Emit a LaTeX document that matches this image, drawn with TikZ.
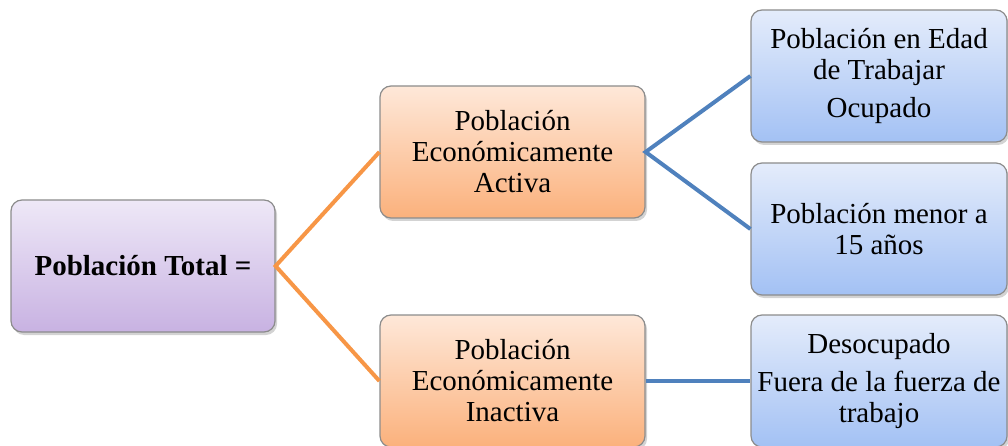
\documentclass[tikz,border=0pt]{standalone}
\usepackage{fontspec}
\setmainfont{Liberation Serif}
\usetikzlibrary{shadows}
\definecolor{bordergray}{HTML}{8C8C8C}
\definecolor{purpletop}{HTML}{EEE8F7}
\definecolor{purplebot}{HTML}{C8B2E2}
\definecolor{orangetop}{HTML}{FEE8D9}
\definecolor{orangebot}{HTML}{FBB17C}
\definecolor{bluetop}{HTML}{E4ECFB}
\definecolor{bluebot}{HTML}{A3C1F4}
\definecolor{linkorange}{HTML}{F79646}
\definecolor{linkblue}{HTML}{4F81BD}
\begin{document}
\begin{tikzpicture}[x=1pt,y=-1pt,
  box/.style={draw=bordergray, line width=1.2pt, rounded corners=11pt,
    align=center, inner sep=2pt, font=\fontsize{29}{31}\selectfont,
    drop shadow={opacity=0.35, shadow xshift=2pt, shadow yshift=-3pt}},
  purplebox/.style={box, top color=purpletop, bottom color=purplebot,
    minimum width=264pt, minimum height=132pt},
  orangebox/.style={box, top color=orangetop, bottom color=orangebot,
    minimum width=265pt, minimum height=132pt},
  bluebox/.style={box, top color=bluetop, bottom color=bluebot,
    minimum width=256pt, minimum height=132pt},
  olink/.style={draw=linkorange, line width=4pt},
  blink/.style={draw=linkblue, line width=4pt}]
\useasboundingbox (0,0) rectangle (1008,446);
\clip (0,0) rectangle (1008,446);
\node[purplebox] (root) at (143,266) {\textbf{Población Total =}};
\node[orangebox] (pea) at (512.5,152) {Población\\Económicamente\\Activa};
\node[orangebox] (pei) at (512.5,381) {Población\\Económicamente\\Inactiva};
\node[bluebox] (pet) at (879,76) {Población en Edad\\de Trabajar\\[7pt]Ocupado};
\node[bluebox] (men) at (879,229) {Población menor a\\15 años};
\node[bluebox] (des) at (879,381) {Desocupado\\[7pt]Fuera de la fuerza de\\trabajo};
\draw[olink] (pea.west) -- (root.east) -- (pei.west);
\draw[blink] (pet.west) -- (pea.east) -- (men.west);
\draw[blink] (pei.east) -- (des.west);
\end{tikzpicture}
\end{document}
